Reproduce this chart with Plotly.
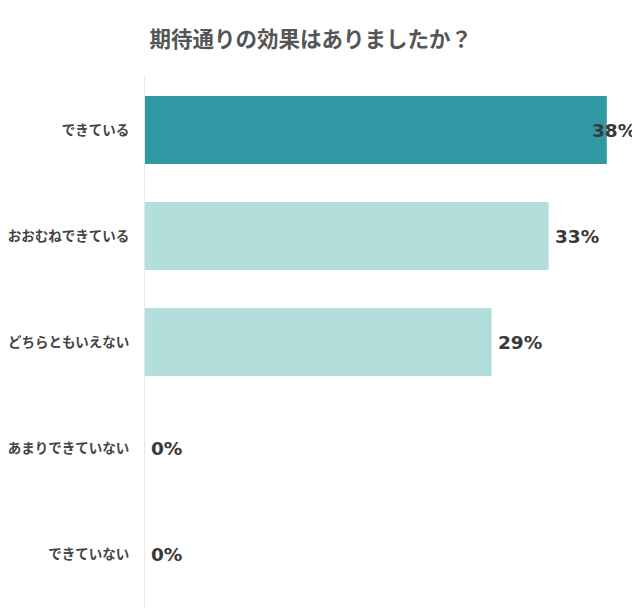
import plotly.graph_objects as go

categories = ["できている", "おおむねできている", "どちらともいえない", "あまりできていない", "できていない"]
values = [38.1, 33.3, 28.6, 0, 0]
labels = ["38%", "33%", "29%", "0%", "0%"]
colors = ["#3199A3", "#B2DFDC", "#B2DFDC", "#B2DFDC", "#B2DFDC"]
label_shift = [-17, 4, 4, 4, 4]

fig = go.Figure()
fig.add_trace(go.Bar(
    y=categories, x=values, orientation="h",
    marker=dict(color=colors, line=dict(width=0)),
    width=0.64, hoverinfo="skip",
))

for c, v, t, s in zip(categories, values, labels, label_shift):
    fig.add_annotation(x=v, y=c, text=t, showarrow=False, xanchor="left", xshift=s,
                       font=dict(family="DejaVu Sans", size=18.5, color="#383838", weight="bold"))

fig.update_layout(
    width=640, height=614,
    margin=dict(l=137, r=20, t=69, b=15),
    paper_bgcolor="white", plot_bgcolor="white",
    showlegend=False,
    title=dict(text="期待通りの効果はありましたか？", x=0.473, xanchor="center", y=0.948, yanchor="middle",
               font=dict(family="Noto Sans CJK JP", size=21.5, color="#555555", weight="bold")),
    xaxis=dict(range=[0, 39.85], showgrid=False, zeroline=False, showticklabels=False, showline=False,
               automargin=False),
    yaxis=dict(autorange="reversed", showgrid=False, zeroline=False, showline=True, linecolor="#e8e8e8", linewidth=1,
               ticks="", ticklabelstandoff=12, automargin=False,
               tickfont=dict(family="Noto Sans CJK JP", size=13.5, color="#444444", weight="bold")),
)
fig.write_html("out.html")
